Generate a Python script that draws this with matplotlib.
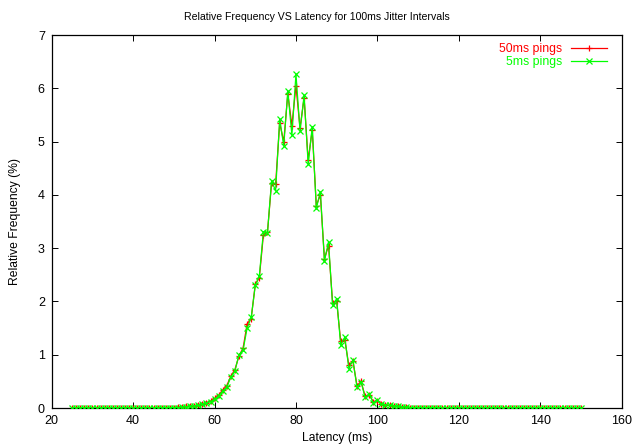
import matplotlib

matplotlib.use("Agg")
import matplotlib.pyplot as plt

# latency bins (ms), one per integer millisecond
latency = list(range(25, 151))

# relative frequency (%) for 5ms pings, latency 25..150
freq_5ms = [
    0.0, 0.0, 0.0, 0.0, 0.0, 0.0, 0.0, 0.0, 0.0, 0.0,          # 25-34
    0.0, 0.0, 0.0, 0.0, 0.0, 0.0, 0.0, 0.0, 0.0, 0.0,          # 35-44
    0.0, 0.01, 0.01, 0.01, 0.01, 0.01, 0.01, 0.02, 0.02, 0.03,  # 45-54
    0.04, 0.05, 0.07, 0.09, 0.12, 0.17, 0.23, 0.32, 0.39, 0.58,  # 55-64
    0.70, 1.00, 1.09, 1.50, 1.70, 2.30, 2.48, 3.31, 3.29, 4.26,  # 65-74
    4.08, 5.42, 4.92, 5.95, 5.12, 6.27, 5.20, 5.87, 4.58, 5.28,  # 75-84
    3.75, 4.06, 2.76, 3.12, 1.93, 2.05, 1.18, 1.33, 0.74, 0.90,  # 85-94
    0.39, 0.49, 0.20, 0.26, 0.10, 0.15, 0.07, 0.06, 0.05, 0.04,  # 95-104
    0.03, 0.02, 0.02, 0.01, 0.01, 0.01, 0.01, 0.01, 0.01, 0.01,  # 105-114
    0.01, 0.0, 0.0, 0.0, 0.0, 0.0, 0.0, 0.0, 0.0, 0.0,          # 115-124
    0.0, 0.0, 0.0, 0.0, 0.0, 0.0, 0.0, 0.0, 0.0, 0.0,          # 125-134
    0.0, 0.0, 0.0, 0.0, 0.0, 0.0, 0.0, 0.0, 0.0, 0.0,          # 135-144
    0.0, 0.0, 0.0, 0.0, 0.0, 0.0,                              # 145-150
]

# relative frequency (%) for 50ms pings, latency 25..150
freq_50ms = [
    0.0, 0.0, 0.0, 0.0, 0.0, 0.0, 0.0, 0.0, 0.0, 0.0,          # 25-34
    0.0, 0.0, 0.0, 0.0, 0.0, 0.0, 0.0, 0.0, 0.0, 0.0,          # 35-44
    0.0, 0.01, 0.01, 0.01, 0.01, 0.01, 0.02, 0.02, 0.03, 0.03,  # 45-54
    0.04, 0.06, 0.08, 0.10, 0.13, 0.18, 0.24, 0.34, 0.42, 0.60,  # 55-64
    0.72, 0.98, 1.12, 1.58, 1.68, 2.32, 2.45, 3.25, 3.30, 4.22,  # 65-74
    4.20, 5.35, 5.00, 5.90, 5.30, 6.05, 5.25, 5.82, 4.65, 5.22,  # 75-84
    3.80, 4.00, 2.80, 3.05, 1.98, 2.00, 1.25, 1.28, 0.80, 0.88,  # 85-94
    0.42, 0.50, 0.22, 0.25, 0.12, 0.14, 0.08, 0.06, 0.05, 0.04,  # 95-104
    0.03, 0.02, 0.02, 0.01, 0.01, 0.01, 0.01, 0.01, 0.01, 0.01,  # 105-114
    0.01, 0.0, 0.0, 0.0, 0.0, 0.0, 0.0, 0.0, 0.0, 0.0,          # 115-124
    0.0, 0.0, 0.0, 0.0, 0.0, 0.0, 0.0, 0.0, 0.0, 0.0,          # 125-134
    0.0, 0.0, 0.0, 0.0, 0.0, 0.0, 0.0, 0.0, 0.0, 0.0,          # 135-144
    0.0, 0.0, 0.0, 0.0, 0.0, 0.0,                              # 145-150
]

x_ticks = [20, 40, 60, 80, 100, 120, 140, 160]
y_ticks = [0, 1, 2, 3, 4, 5, 6, 7]

plt.rcParams.update({
    "font.family": ["Liberation Sans", "DejaVu Sans"], "font.size": 8.7,
    "axes.linewidth": 0.9,
})

fig = plt.figure(figsize=(6.34, 4.44), dpi=100)
ax = fig.add_axes([0.0817, 0.081, 0.8986, 0.840])

ax.plot(latency, freq_50ms, color="#ff0000", linewidth=0.9, marker="+", markersize=4.5,
        markeredgewidth=0.9, label="50ms pings", zorder=2)
ax.plot(latency, freq_5ms, color="#00ff00", linewidth=0.9, marker="x", markersize=3.8,
        markeredgewidth=0.9, label="5ms pings", zorder=3)

ax.set_xlim(20, 160)
ax.set_ylim(0, 7)
ax.set_xticks(x_ticks)
ax.set_yticks(y_ticks)
ax.tick_params(direction="in", top=True, right=True, length=4, width=0.7, pad=5, labelsize=9)
ax.set_xlabel("Latency (ms)")
ax.set_ylabel("Relative Frequency (%)")
ax.xaxis.set_label_coords(0.5, -0.063)
ax.yaxis.set_label_coords(-0.054, 0.5)
fig.text(0.5, 1 - 17 / 444, "Relative Frequency VS Latency for 100ms Jitter Intervals",
         ha="center", va="center", fontsize=7.6)

ax.legend(loc="upper right", bbox_to_anchor=(0.988, 1.0), frameon=False, markerfirst=False,
          labelcolor="linecolor", fontsize=8.8, handlelength=2.9, handletextpad=0.75,
          borderaxespad=0.25, labelspacing=0.1)

fig.savefig("out.png", dpi=100)
